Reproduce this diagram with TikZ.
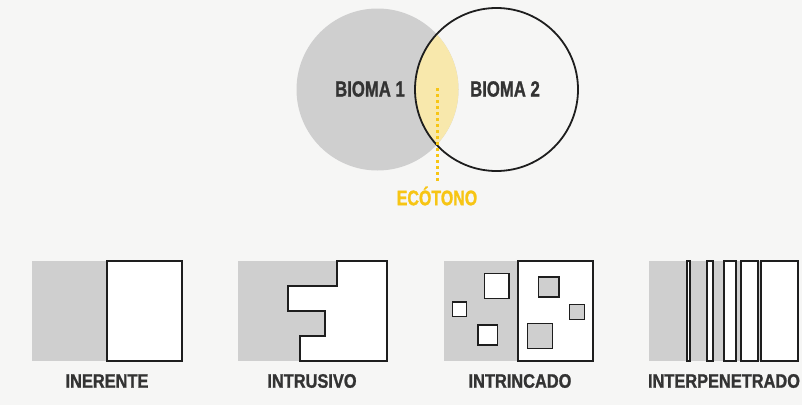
\documentclass[tikz,border=0pt]{standalone}
\usepackage{fontspec}
\setmainfont{Liberation Sans}
\newfontfamily\condtop{Liberation Sans}[FakeStretch=0.76, BoldFeatures={FakeBold=1.2}]
\newfontfamily\condbot{Liberation Sans}[FakeStretch=0.84, BoldFeatures={FakeBold=1.2}]
\definecolor{bgc}{HTML}{F6F6F5}
\definecolor{grayfill}{HTML}{CFCFCF}
\definecolor{ecoyel}{HTML}{F8E8AC}
\definecolor{gold}{HTML}{F7C514}
\definecolor{txt}{HTML}{333333}
\definecolor{edge}{HTML}{1E1E1E}
\tikzset{
  toplabel/.style={font=\condtop\bfseries\fontsize{22}{24}\selectfont, text=txt, inner sep=0pt},
  ecolabel/.style={font=\condtop\bfseries\fontsize{21}{23}\selectfont, text=gold, inner sep=0pt},
  botlabel/.style={font=\condbot\bfseries\fontsize{19.5}{22}\selectfont, text=txt, inner sep=0pt},
  graypart/.style={fill=grayfill, draw=none},
  whitepart/.style={fill=white, draw=edge, line width=1.3pt},
  graysq/.style={fill=grayfill, draw=edge, line width=1.2pt},
  whitesq/.style={fill=white, draw=edge, line width=1.2pt},
  dotline/.style={draw=gold, line width=3pt, dash pattern=on 3pt off 3pt}
}
\begin{document}
\begin{tikzpicture}[x=1pt,y=-1pt]
\fill[bgc] (0,0) rectangle (802,405);
\useasboundingbox (0,0) rectangle (802,405);
% Venn
\fill[grayfill] (377.5,89.5) circle (81);
\begin{scope}
  \clip (377.5,89.5) circle (81);
  \fill[ecoyel] (496.5,89.5) circle (81.5);
\end{scope}
\draw[edge, line width=1.8pt] (496.5,89.5) circle (81.5);
\node[toplabel] (b1) at (370,89) {BIOMA 1};
\node[toplabel] (b2) at (505,89) {BIOMA 2};
\coordinate (ecotop) at (437,88);
\node[ecolabel] (eco) at (437,196) {ECÓTONO};
\draw[dotline] (ecotop) -- ([yshift=4pt]eco.north);
% INERENTE
\fill[graypart] (32,261) rectangle (107,361);
\draw[whitepart] (107,261) rectangle (182,361);
\node[botlabel] (l1) at (107,381) {INERENTE};
% INTRUSIVO
\fill[graypart] (238,261) rectangle (387,361);
\draw[whitepart] (337,261) -- (387,261) -- (387,361) -- (300,361) -- (300,336) -- (325,336) -- (325,311) -- (288,311) -- (288,286) -- (337,286) -- cycle;
\node[botlabel] (l2) at (312,381) {INTRUSIVO};
% INTRINCADO
\fill[graypart] (444,261) rectangle (518,361);
\draw[whitepart] (518,261) rectangle (593,361);
\draw[whitesq] (484.5,273.5) rectangle (509,298.5);
\draw[whitesq] (452.5,302) rectangle (466.5,316.5);
\draw[whitesq] (478,325) rectangle (497.5,345);
\draw[graysq] (538.5,277) rectangle (559,297);
\draw[graysq] (569.5,304.5) rectangle (584.5,319.5);
\draw[graysq] (527.5,323.5) rectangle (552.5,348.5);
\node[botlabel] (l3) at (520,381) {INTRINCADO};
% INTERPENETRADO
\fill[graypart] (649,261) rectangle (798,361);
\draw[whitepart] (687,261) rectangle (690,361);
\draw[whitepart] (707,261) rectangle (713,361);
\draw[whitepart] (724,261) rectangle (736,361);
\draw[whitepart] (741,261) rectangle (758,361);
\draw[whitepart] (761,261) rectangle (798,361);
\node[botlabel] (l4) at (724,381) {INTERPENETRADO};
\end{tikzpicture}
\end{document}
